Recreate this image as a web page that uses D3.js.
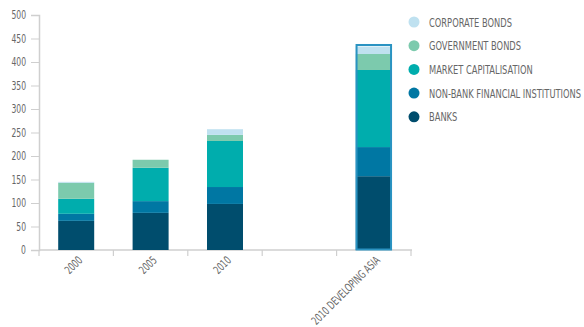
<!DOCTYPE html>
<html>
<head>
<meta charset="utf-8">
<script src="https://cdn.jsdelivr.net/npm/d3@7"></script>
<style>
  body { margin: 0; background: #fff; }
  svg { display: block; }
  text { font-family: "DejaVu Sans Condensed", "DejaVu Sans", sans-serif; font-stretch: condensed; fill: #666; }
</style>
</head>
<body>
<svg id="chart" width="584" height="327"></svg>
<script>
const categories = ["2000", "2005", "2010", "", "2010 DEVELOPING ASIA"];
const seriesNames = ["BANKS", "NON-BANK FINANCIAL INSTITUTIONS", "MARKET CAPITALISATION", "GOVERNMENT BONDS", "CORPORATE BONDS"];
const banks      = [62, 79, 98, null, 157];
const nonBank    = [15, 25, 36, null, 62];
const marketCap  = [32, 71, 98, null, 164];
const govBonds   = [34, 17, 13, null, 34];
const corpBonds  = [2, 0, 12, null, 16];
const yTicks = [0, 50, 100, 150, 200, 250, 300, 350, 400, 450, 500];
const colors = ["#004d6d", "#0077a3", "#00adad", "#7ccaad", "#bfe1f0"];
const highlighted = "2010 DEVELOPING ASIA";

const seriesValues = [banks, nonBank, marketCap, govBonds, corpBonds];
const rows = categories.map((c, i) => {
  const r = { cat: c, idx: i };
  seriesNames.forEach((s, k) => { r[s] = seriesValues[k][i] || 0; });
  r.empty = seriesValues.every(v => v[i] == null);
  return r;
});

const svg = d3.select("#chart");
const x0 = 39, x1 = 411, yTop = 15, yBottom = 250;

const x = d3.scaleBand().domain(d3.range(categories.length)).range([x0, x1]).paddingInner(0).paddingOuter(0);
const y = d3.scaleLinear().domain([0, 500]).range([yBottom, yTop]);
const barW = 36;

const stack = d3.stack().keys(seriesNames);
const stacked = stack(rows.filter(r => !r.empty));

// narrow lettering: horizontal squeeze applied to all labels
const SQUEEZE = 0.74;

// y axis
const yAxis = svg.append("g").attr("transform", `translate(${x0},0)`)
  .call(d3.axisLeft(y).tickValues(yTicks).tickSize(8).tickPadding(5));
yAxis.select(".domain").attr("stroke", "#cfcfcf").attr("stroke-width", 1.5);
yAxis.selectAll(".tick line").attr("stroke", "#cfcfcf").attr("stroke-width", 1);
yAxis.selectAll("text")
  .style("font-size", "11.5px").attr("fill", "#666")
  .attr("x", null)
  .attr("transform", `translate(-13,0) scale(${SQUEEZE},1)`);

// x axis with ticks at band boundaries
const xg = svg.append("g").attr("transform", `translate(0,${yBottom})`);
xg.append("line").attr("x1", x0).attr("x2", x1 + 1).attr("stroke", "#cfcfcf").attr("stroke-width", 1.5);
const bounds = d3.range(categories.length + 1).map(i => x0 + i * x.bandwidth());
xg.selectAll("line.tk").data(bounds).join("line").attr("class", "tk")
  .attr("x1", d => d).attr("x2", d => d).attr("y1", 0).attr("y2", 6)
  .attr("stroke", "#cfcfcf").attr("stroke-width", 1.2);
xg.selectAll("text.lab").data(rows).join("text").attr("class", "lab")
  .attr("text-anchor", "end")
  .attr("transform", d => `translate(${x(d.idx) + x.bandwidth() / 2 + 7},11) rotate(-45) scale(${SQUEEZE},1)`)
  .style("font-size", "11.5px").attr("fill", "#666")
  .text(d => d.cat);

// bars
const layers = svg.append("g").selectAll("g").data(stacked).join("g")
  .attr("fill", (d, i) => colors[i]);
layers.selectAll("rect").data(d => d).join("rect")
  .attr("x", d => x(d.data.idx) + (x.bandwidth() - barW) / 2)
  .attr("width", barW)
  .attr("y", d => y(d[1]))
  .attr("height", d => Math.max(0, y(d[0]) - y(d[1])));

// outline for the highlighted column
const hi = rows.find(r => r.cat === highlighted);
const hiTotal = d3.sum(seriesNames, s => hi[s]);
svg.append("rect")
  .attr("x", x(hi.idx) + (x.bandwidth() - barW) / 2 + 0.75)
  .attr("y", y(hiTotal) - 1.5)
  .attr("width", barW - 1.5)
  .attr("height", y(0) - y(hiTotal) + 1)
  .attr("fill", "none").attr("stroke", "#2a93c2").attr("stroke-width", 2);

// legend (top to bottom: reversed series order)
const legend = svg.append("g").attr("transform", "translate(414,22)");
const legItems = seriesNames.map((s, i) => ({ s, c: colors[i] })).reverse();
const lg = legend.selectAll("g").data(legItems).join("g")
  .attr("transform", (d, i) => `translate(0,${i * 23.7})`);
lg.append("circle").attr("r", 5.5).attr("fill", d => d.c);
lg.append("text")
  .attr("transform", `translate(15,0) scale(${SQUEEZE},1)`)
  .attr("dy", "0.36em").style("font-size", "12.5px").attr("fill", "#666").text(d => d.s);

// keep the longest legend entry inside the canvas
const widest = d3.max(lg.selectAll("text").nodes(), n => n.getComputedTextLength());
const fit = Math.min(SQUEEZE, 152 / widest);
lg.selectAll("text").attr("transform", `translate(15,0) scale(${fit},1)`);
</script>
</body>
</html>
